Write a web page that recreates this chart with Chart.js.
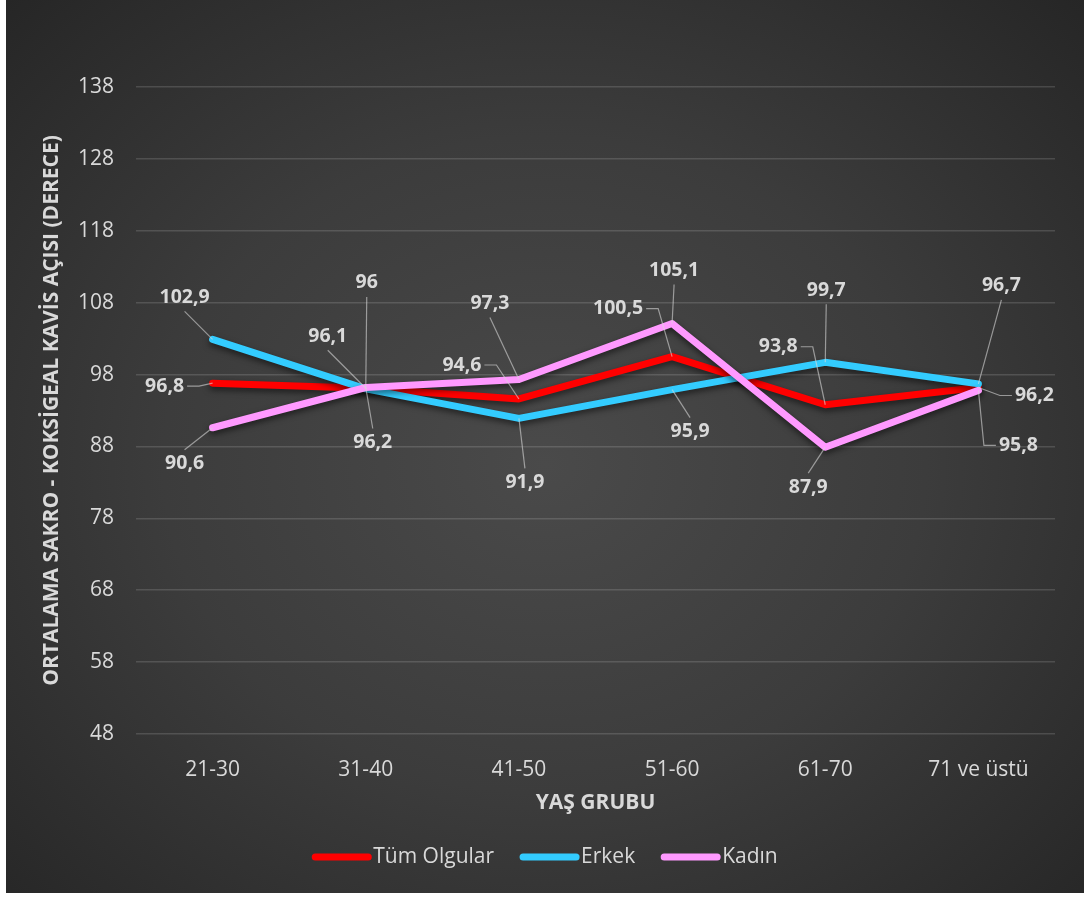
<!DOCTYPE html>
<html lang="tr">
<head>
<meta charset="utf-8">
<script src="https://cdn.jsdelivr.net/npm/chart.js@4"></script>
<style>
  html, body { margin: 0; padding: 0; background: #ffffff; }
  #panel {
    position: absolute; left: 6px; top: 0; width: 1078px; height: 893px;
    background: radial-gradient(ellipse at 50% 52%, #4a4a4a 0%, #3c3c3c 50%, #262626 100%);
  }
</style>
</head>
<body>
<div id="panel"><canvas id="sakroChart"></canvas></div>
<script>
// yaş grupları ve ortalama açı değerleri (derece)
const ageGroups = ["21-30", "31-40", "41-50", "51-60", "61-70", "71 ve üstü"];
const allCases = [96.8, 96.1, 94.6, 100.5, 93.8, 96.2];
const male = [102.9, 96, 91.9, 95.9, 99.7, 96.7];
const female = [90.6, 96.2, 97.3, 105.1, 87.9, 95.8];
const yMin = 48, yMax = 138, yStep = 10;

// etiket yerleşimi: [dx, dy, dirsekli çizgi mi]
const allCasesLabelPos = [[-48, 3, 1], [-38, -52, 0], [-57, -34, 1], [-54, -48, 1], [-47, -58, 1], [56, 8, 1]];
const maleLabelPos = [[-28, -42, 0], [1, -106, 0], [6, 64, 0], [18, 42, 0], [1, -72, 0], [23, -98, 0]];
const femaleLabelPos = [[-28, 36, 0], [7, 55, 0], [-29, -76, 0], [2, -53, 0], [-17, 40, 0], [40, 55, 1]];

const FONT = "'Open Sans', 'DejaVu Sans', sans-serif";
const TEXT = "#d9d9d9";

const fmt = (v) => String(v).replace(".", ",");

// çizgilere hafif gölge
const lineShadow = {
  id: "lineShadow",
  beforeDatasetsDraw(chart) {
    const ctx = chart.ctx;
    ctx.save();
    ctx.shadowColor = "rgba(0,0,0,0.55)";
    ctx.shadowBlur = 6;
    ctx.shadowOffsetY = 3;
  },
  afterDatasetsDraw(chart) {
    chart.ctx.restore();
  },
};

// değer etiketleri + kılavuz çizgileri
const valueLabels = {
  id: "valueLabels",
  afterDatasetsDraw(chart) {
    const ctx = chart.ctx;
    ctx.save();
    ctx.font = "bold 19.5px " + FONT;
    ctx.textAlign = "center";
    ctx.textBaseline = "middle";
    chart.data.datasets.forEach((ds, di) => {
      const meta = chart.getDatasetMeta(di);
      meta.data.forEach((pt, i) => {
        const [dx, dy, elbow] = ds.labelPos[i];
        const text = fmt(ds.data[i]);
        const cx = pt.x + dx, cy = pt.y + dy;
        const w = ctx.measureText(text).width;
        const half = w / 2 + 3;
        ctx.strokeStyle = "rgba(217,217,217,0.6)";
        ctx.lineWidth = 1.2;
        ctx.beginPath();
        if (elbow) {
          const side = pt.x > cx ? 1 : -1;
          const sx = cx + side * half;
          ctx.moveTo(sx, cy);
          ctx.lineTo(sx + side * 12, cy);
          ctx.lineTo(pt.x, pt.y);
        } else {
          const sy = pt.y > cy ? cy + 14 : cy - 14;
          ctx.moveTo(cx, sy);
          ctx.lineTo(pt.x, pt.y);
        }
        ctx.stroke();
        ctx.fillStyle = TEXT;
        ctx.fillText(text, cx, cy);
      });
    });
    ctx.restore();
  },
};

// alt gösterge (çizgi + yazı)
const bottomLegend = {
  id: "bottomLegend",
  afterDraw(chart) {
    const ctx = chart.ctx;
    const lineW = 59, gapText = 2, gapItem = 26, y = 857;
    ctx.save();
    ctx.font = "21px " + FONT;
    ctx.textBaseline = "middle";
    const items = chart.data.datasets.map((ds) => ({
      label: ds.label,
      color: ds.borderColor,
      w: lineW + gapText + ctx.measureText(ds.label).width,
    }));
    const total = items.reduce((s, it) => s + it.w, 0) + gapItem * (items.length - 1);
    let x = chart.width / 2 - total / 2;
    items.forEach((it) => {
      ctx.strokeStyle = it.color;
      ctx.lineWidth = 7;
      ctx.lineCap = "round";
      ctx.beginPath();
      ctx.moveTo(x + 3, y);
      ctx.lineTo(x + lineW - 3, y);
      ctx.stroke();
      ctx.fillStyle = TEXT;
      ctx.fillText(it.label, x + lineW + gapText, y);
      x += it.w + gapItem;
    });
    ctx.restore();
  },
};

function lineSet(label, data, color, labelPos, order) {
  return {
    label: label,
    data: data,
    labelPos: labelPos,
    borderColor: color,
    backgroundColor: color,
    borderWidth: 7,
    borderCapStyle: "round",
    borderJoinStyle: "round",
    pointRadius: 0,
    pointHoverRadius: 0,
    tension: 0,
    order: order,
  };
}

new Chart(document.getElementById("sakroChart"), {
  type: "line",
  data: {
    labels: ageGroups,
    datasets: [
      lineSet("Tüm Olgular", allCases, "#ff0000", allCasesLabelPos, 3),
      lineSet("Erkek", male, "#33ccff", maleLabelPos, 2),
      lineSet("Kadın", female, "#ff99ff", femaleLabelPos, 1),
    ],
  },
  options: {
    responsive: true,
    maintainAspectRatio: false,
    animation: false,
    layout: { padding: { left: 0, top: 87, right: 29, bottom: 55 } },
    plugins: {
      legend: { display: false },
      tooltip: { enabled: false },
    },
    scales: {
      x: {
        offset: true,
        grid: { display: false },
        border: { display: false },
        ticks: { color: TEXT, font: { family: FONT, size: 21 }, padding: 15 },
        title: {
          display: true,
          text: "YAŞ GRUBU",
          color: TEXT,
          font: { family: FONT, size: 21, weight: "bold" },
          padding: { top: 0, bottom: 22 },
        },
        afterFit(scale) { scale.height = 104; },
      },
      y: {
        min: yMin,
        max: yMax,
        ticks: {
          stepSize: yStep,
          color: TEXT,
          font: { family: FONT, size: 21 },
          padding: 22,
        },
        grid: { color: "rgba(255,255,255,0.14)", lineWidth: 1.5, drawTicks: false },
        border: { display: false },
        title: {
          display: true,
          text: "ORTALAMA SAKRO - KOKSİGEAL KAVİS AÇISI (DERECE)",
          color: TEXT,
          font: { family: FONT, size: 21, weight: "bold" },
          padding: { top: 33, bottom: 0 },
        },
        afterFit(scale) { scale.width = 130; },
      },
    },
  },
  plugins: [lineShadow, valueLabels, bottomLegend],
});
</script>
</body>
</html>
